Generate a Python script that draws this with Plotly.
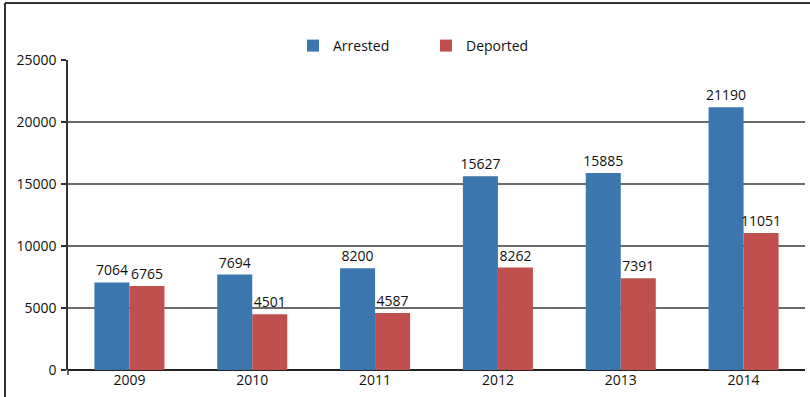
import plotly.graph_objects as go

years = ["2009", "2010", "2011", "2012", "2013", "2014"]
arrested = [7064, 7694, 8200, 15627, 15885, 21190]
deported = [6765, 4501, 4587, 8262, 7391, 11051]

BLUE = "#3B76AE"
RED = "#C0504D"
FONT = "Open Sans"

fig = go.Figure()
for name, vals, col in [("Arrested", arrested, BLUE), ("Deported", deported, RED)]:
    fig.add_trace(go.Bar(
        name=name, x=years, y=vals,
        marker=dict(color=col, line=dict(width=0)),
        text=[str(v) for v in vals], textposition="outside",
        constraintext="none",
        textfont=dict(family=FONT, size=14, color="#111"), cliponaxis=False,
    ))

W, H = 810, 397
ml, mr, mt, mb = 68, 5, 60, 27
pw, ph = W - ml - mr, H - mt - mb

def px_x(p):
    return (p - ml) / pw

def px_y(p):
    return (H - mb - p) / ph

fig.update_layout(
    width=W, height=H,
    margin=dict(l=ml, r=mr, t=mt, b=mb, pad=0),
    paper_bgcolor="white", plot_bgcolor="white",
    barmode="group", bargap=0.43, bargroupgap=0,
    font=dict(family=FONT, size=14, color="#111"),
    showlegend=True,
    legend=dict(
        orientation="h", x=px_x(293), y=px_y(30), xanchor="left", yanchor="top",
        font=dict(family=FONT, size=14, color="#111"),
        itemwidth=30, entrywidth=88, entrywidthmode="pixels",
        bgcolor="rgba(0,0,0,0)",
    ),
    xaxis=dict(
        type="category", showgrid=False, showline=False, ticks="",
        tickfont=dict(family=FONT, size=14, color="#111"),
    ),
    yaxis=dict(
        range=[0, 25000], tickvals=[0, 5000, 10000, 15000, 20000, 25000],
        tickformat="d",
        showgrid=True, gridcolor="#6a6a6a", gridwidth=1.5,
        zeroline=True, zerolinecolor="#222", zerolinewidth=1.5,
        showline=True, linecolor="#333", linewidth=1.5,
        ticks="outside", ticklen=5, tickcolor="#333", tickwidth=1.5,
        tickfont=dict(family=FONT, size=14, color="#111"),
        ticklabelstandoff=2,
    ),
    shapes=[
        # outer frame: left and top edges
        dict(type="line", xref="paper", yref="paper",
             x0=px_x(5), x1=px_x(5), y0=px_y(3), y1=px_y(400),
             line=dict(color="#333", width=2)),
        dict(type="line", xref="paper", yref="paper",
             x0=px_x(5), x1=px_x(812), y0=px_y(3), y1=px_y(3),
             line=dict(color="#333", width=2)),
        # y axis extends slightly below zero
        dict(type="line", xref="paper", yref="paper",
             x0=0, x1=0, y0=0, y1=px_y(375),
             line=dict(color="#333", width=1.5)),
    ],
)

fig.write_html("out.html")
